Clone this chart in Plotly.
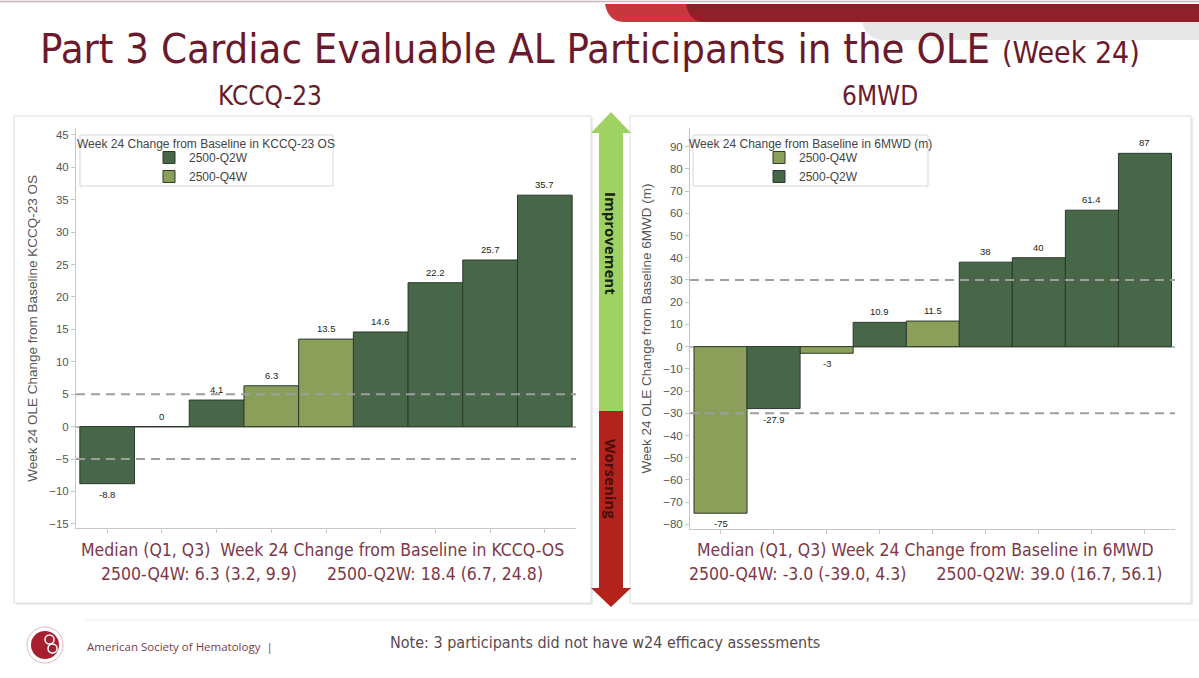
import plotly.graph_objects as go

W, H = 1199, 678

# data
kccq_values = [-8.8, 0, 4.1, 6.3, 13.5, 14.6, 22.2, 25.7, 35.7]
kccq_groups = ["2500-Q2W", "2500-Q2W", "2500-Q2W", "2500-Q4W", "2500-Q4W",
               "2500-Q2W", "2500-Q2W", "2500-Q2W", "2500-Q2W"]
mwd_values = [-75, -27.9, -3, 10.9, 11.5, 38, 40, 61.4, 87]
mwd_groups = ["2500-Q4W", "2500-Q2W", "2500-Q4W", "2500-Q2W", "2500-Q4W",
              "2500-Q2W", "2500-Q2W", "2500-Q2W", "2500-Q2W"]
kccq_thresholds = [5, -5]
mwd_thresholds = [30, -30]
kccq_ticks = [-15, -10, -5, 0, 5, 10, 15, 20, 25, 30, 35, 40, 45]
mwd_ticks = [-80, -70, -60, -50, -40, -30, -20, -10, 0, 10, 20, 30, 40, 50, 60, 70, 80, 90]

colors = {"2500-Q2W": "#476748", "2500-Q4W": "#8b9f5a"}
MAROON = "#6b1a2c"
SOFT = "#7d3848"
NARROW = "Liberation Sans Narrow, Arial Narrow, DejaVu Sans Condensed, sans-serif"
SANS = "Liberation Sans, Arial, sans-serif"


def px(x):
    return x / W


def py(y):
    return 1 - y / H


def path(cmds):
    # cmds: list of (letter, [x, y, ...]) in pixel coords, one pair (or Q pair set) per command
    out = []
    for c, pts in cmds:
        n = 4 if c == "Q" else 2
        for i in range(0, len(pts), n):
            seg = pts[i:i + n]
            out.append(c + " " + " ".join("%.5f,%.5f" % (px(seg[j]), py(seg[j + 1]))
                                          for j in range(0, len(seg), 2)))
    return " ".join(out) + " Z"


fig = go.Figure()


def add_bars(values, groups, order, xa, ya, legend):
    for g in order:
        idx = [i for i, gg in enumerate(groups) if gg == g]
        fig.add_trace(go.Bar(
            x=idx, y=[values[i] for i in idx], width=1, name=g,
            marker=dict(color=colors[g], line=dict(color="#2b3a2b", width=1)),
            xaxis=xa, yaxis=ya, legend=legend, hoverinfo="x+y"))


add_bars(kccq_values, kccq_groups, ["2500-Q2W", "2500-Q4W"], "x", "y", "legend")
add_bars(mwd_values, mwd_groups, ["2500-Q4W", "2500-Q2W"], "x2", "y2", "legend2")

ann = []
for vals, xr, yr in [(kccq_values, "x", "y"), (mwd_values, "x2", "y2")]:
    for i, v in enumerate(vals):
        ann.append(dict(x=i, y=v, xref=xr, yref=yr, text="%g" % v, showarrow=False,
                        yanchor="bottom" if v >= 0 else "top", yshift=3 if v >= 0 else -3,
                        font=dict(size=9.5, color="#222", family=SANS)))

shapes = []
# panels with soft shadow
for x0, x1 in [(14, 591), (630, 1191)]:
    shapes.append(dict(type="rect", xref="paper", yref="paper", layer="below",
                       x0=px(x0 + 2), x1=px(x1 + 2), y0=py(605), y1=py(118),
                       line=dict(width=0), fillcolor="#ececec"))
    shapes.append(dict(type="rect", xref="paper", yref="paper", layer="below",
                       x0=px(x0), x1=px(x1), y0=py(603), y1=py(116),
                       line=dict(color="#dedede", width=1), fillcolor="white"))
# legend boxes
for x0, x1 in [(80, 333), (693, 928)]:
    shapes.append(dict(type="rect", xref="paper", yref="paper", layer="below",
                       x0=px(x0), x1=px(x1), y0=py(186), y1=py(135),
                       line=dict(color="#d6d6d6", width=1), fillcolor="white"))
# threshold lines
for th, xr, yr in [(t, "x", "y") for t in kccq_thresholds] + [(t, "x2", "y2") for t in mwd_thresholds]:
    shapes.append(dict(type="line", xref=xr + " domain", yref=yr, x0=0, x1=1, y0=th, y1=th,
                       line=dict(color="#9e9e9e", width=2, dash="9px,6px")))
# improvement / worsening arrow
shapes.append(dict(type="path", xref="paper", yref="paper", line=dict(width=0), fillcolor="#9fd163",
                   path=path([("M", [599, 411]), ("L", [599, 133, 591, 133, 611, 112, 631, 133,
                                                        623, 133, 623, 411])])))
shapes.append(dict(type="path", xref="paper", yref="paper", line=dict(width=0), fillcolor="#b3231c",
                   path=path([("M", [599, 411]), ("L", [623, 411, 623, 588, 631, 588, 611, 607,
                                                        591, 588, 599, 588])])))
# header decoration
shapes.append(dict(type="line", xref="paper", yref="paper", x0=0, x1=1, y0=py(1.5), y1=py(1.5),
                   line=dict(color="#c8b4ba", width=1.5)))
shapes.append(dict(type="path", xref="paper", yref="paper", line=dict(width=0), fillcolor="#e7e7e7",
                   path=path([("M", [862, 22]), ("Q", [866, 40, 885, 40]), ("L", [1199, 40, 1199, 22])])))
shapes.append(dict(type="path", xref="paper", yref="paper", line=dict(width=0), fillcolor="#c8373d",
                   path=path([("M", [605, 4]), ("Q", [608, 22, 625, 22]), ("L", [1199, 22, 1199, 4])])))
shapes.append(dict(type="path", xref="paper", yref="paper", line=dict(width=0), fillcolor="#8f2029",
                   path=path([("M", [686, 4]), ("Q", [689, 22, 705, 22]), ("L", [1199, 22, 1199, 4])])))
# footer rule and logo
shapes.append(dict(type="line", xref="paper", yref="paper", x0=px(85), x1=1, y0=py(620), y1=py(620),
                   line=dict(color="#eeeeee", width=1)))
shapes.append(dict(type="circle", xref="paper", yref="paper", x0=px(27), x1=px(63), y0=py(663), y1=py(627),
                   line=dict(color="#d9b9bf", width=1), fillcolor="white"))
shapes.append(dict(type="circle", xref="paper", yref="paper", x0=px(31), x1=px(59), y0=py(659), y1=py(631),
                   line=dict(width=0), fillcolor="#a51f2f"))
shapes.append(dict(type="circle", xref="paper", yref="paper", x0=px(45), x1=px(54), y0=py(644), y1=py(635),
                   line=dict(color="white", width=1.5), fillcolor="#a51f2f"))
shapes.append(dict(type="circle", xref="paper", yref="paper", x0=px(48), x1=px(57), y0=py(653), y1=py(644),
                   line=dict(color="white", width=1.5), fillcolor="#a51f2f"))


def text(x, y, s, size, color=MAROON, family=NARROW, xanchor="center", **kw):
    ann.append(dict(x=px(x), y=py(y), xref="paper", yref="paper", text=s, showarrow=False,
                    xanchor=xanchor, yanchor="middle", font=dict(size=size, color=color, family=family), **kw))


text(38, 48, "Part 3 Cardiac Evaluable AL Participants in the OLE <span style='font-size:30px'>(Week 24)</span>",
     41.5, xanchor="left")
text(270, 96, "KCCQ-23", 26)
text(880, 96, "6MWD", 26)
text(206, 144, "Week 24 Change from Baseline in KCCQ-23 OS", 12, color="#444", family=SANS)
text(810, 144, "Week 24 Change from Baseline in 6MWD (m)", 12, color="#444", family=SANS)
text(611, 243, "<b>Improvement</b>", 15, color="#17220f", family="Open Sans, sans-serif", textangle=90)
text(611, 479, "<b>Worsening</b>", 15, color="#4a0d0a", family="Open Sans, sans-serif", textangle=90)
text(322, 550, "Median (Q1, Q3)  Week 24 Change from Baseline in KCCQ-OS", 17.5, color=SOFT)
text(322, 574, "2500-Q4W: 6.3 (3.2, 9.9)      2500-Q2W: 18.4 (6.7, 24.8)", 17.5, color=SOFT)
text(925, 550, "Median (Q1, Q3) Week 24 Change from Baseline in 6MWD", 17.5, color=SOFT)
text(925, 574, "2500-Q4W: -3.0 (-39.0, 4.3)      2500-Q2W: 39.0 (16.7, 56.1)", 17.5, color=SOFT)
text(85, 646, "American Society of Hematology  |", 11.5, color="#7a3d4a", family="Open Sans, sans-serif",
     xanchor="left")
text(388, 642, "Note: 3 participants did not have w24 efficacy assessments", 16, color="#5a4a4e",
     xanchor="left")

axis_line = dict(showgrid=False, showline=True, linecolor="#c6c6c6", linewidth=1,
                 ticks="outside", tickcolor="#c6c6c6", ticklen=4)
tick_font = dict(size=11.5, color="#555", family=SANS)

fig.update_layout(
    width=W, height=H, margin=dict(l=0, r=0, t=0, b=0),
    paper_bgcolor="white", plot_bgcolor="rgba(0,0,0,0)",
    barmode="overlay", showlegend=True,
    xaxis=dict(domain=[px(76), px(576)], range=[-0.57, 8.57], tickvals=list(range(len(kccq_values))),
               showticklabels=False, zeroline=False, anchor="y", **axis_line),
    yaxis=dict(domain=[py(528.4), py(128.4)], range=[-15.7, 46], tickvals=kccq_ticks, tickfont=tick_font,
               zeroline=True, zerolinecolor="#bdbdbd", zerolinewidth=1.5, anchor="x",
               title=dict(text="Week 24 OLE Change from Baseline KCCQ-23 OS", standoff=8,
                          font=dict(size=13.5, color="#555", family=SANS)), **axis_line),
    xaxis2=dict(domain=[px(690), px(1175)], range=[-0.575, 8.566], tickvals=list(range(len(mwd_values))),
                showticklabels=False, zeroline=False, anchor="y2", **axis_line),
    yaxis2=dict(domain=[py(529), py(128)], range=[-82.1, 98.4], tickvals=mwd_ticks, tickfont=tick_font,
                zeroline=True, zerolinecolor="#bdbdbd", zerolinewidth=1.5, anchor="x2",
                title=dict(text="Week 24 OLE Change from Baseline 6MWD (m)", standoff=8,
                           font=dict(size=13.5, color="#555", family=SANS)), **axis_line),
    legend=dict(x=px(149), y=py(143), xanchor="left", yanchor="top", bgcolor="rgba(0,0,0,0)",
                font=dict(size=12, color="#444", family=SANS), itemwidth=30, tracegroupgap=0),
    legend2=dict(x=px(759), y=py(143), xanchor="left", yanchor="top", bgcolor="rgba(0,0,0,0)",
                 font=dict(size=12, color="#444", family=SANS), itemwidth=30, tracegroupgap=0),
    shapes=shapes, annotations=ann,
)

# page has a default 8px body margin; remove it so the figure fills the window
fig.write_html("out.html", config={"displayModeBar": False},
               post_script="document.body.style.margin='0';")
